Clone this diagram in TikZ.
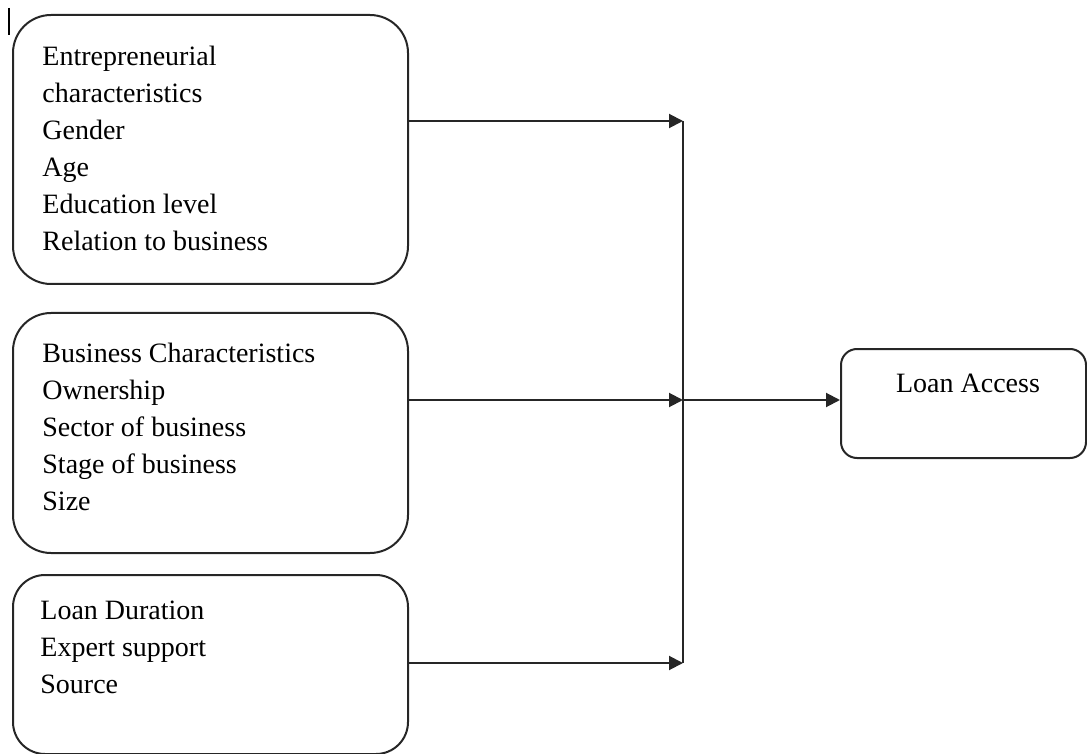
\documentclass[tikz,border=0pt]{standalone}
\usepackage{fontspec}
\setmainfont{Liberation Serif}
\usetikzlibrary{arrows.meta}
\begin{document}
\begin{tikzpicture}[x=0.5pt,y=-0.5pt,
  bigbox/.style={draw=black!85, line width=1pt, rounded corners=19pt, inner sep=0pt, anchor=north west},
  label/.style={anchor=north west, inner sep=0pt, align=left, font=\fontsize{14pt}{18.5pt}\selectfont},
  link/.style={draw=black!85, line width=1pt, -{Triangle[length=7pt,width=7pt]}},
  trunk/.style={draw=black!85, line width=1pt}]
\useasboundingbox (0,0) rectangle (1087,754);
% cursor mark
\draw[line width=0.6pt] (9,8) -- (9,35);
% boxes
\node[bigbox, minimum width=197.5pt, minimum height=134.5pt] (ebox) at (12,14) {};
\node[bigbox, minimum width=197.5pt, minimum height=120pt] (bbox) at (12,312) {};
\node[bigbox, rounded corners=16pt, minimum width=197.5pt, minimum height=89.5pt] (lbox) at (12,574) {};
\node[bigbox, rounded corners=8pt, minimum width=122.5pt, minimum height=54.5pt] (abox) at (840,348) {};
% texts
\node[label] (etext) at (42,46) {Entrepreneurial\\characteristics\\Gender\\Age\\Education level\\Relation to business};
\node[label] (btext) at (42,343) {Business Characteristics\\Ownership\\Sector of business\\Stage of business\\Size};
\node[label] (ltext) at (40,601) {Loan Duration\\Expert support\\Source};
\node[anchor=base, inner sep=0pt, font=\fontsize{14pt}{18.5pt}\selectfont] (atext) at (968,392) {Loan Access};
% junctions
\coordinate (j1) at (683,121);
\coordinate (j2) at (683,400);
\coordinate (j3) at (683,663);
\draw[trunk] (j1) -- (j3);
\draw[link] (ebox.east |- j1) -- (j1);
\draw[link] (bbox.east |- j2) -- (j2);
\draw[link] (lbox.east |- j3) -- (j3);
\draw[link] (j2) -- (abox.west |- j2);
\end{tikzpicture}
\end{document}
